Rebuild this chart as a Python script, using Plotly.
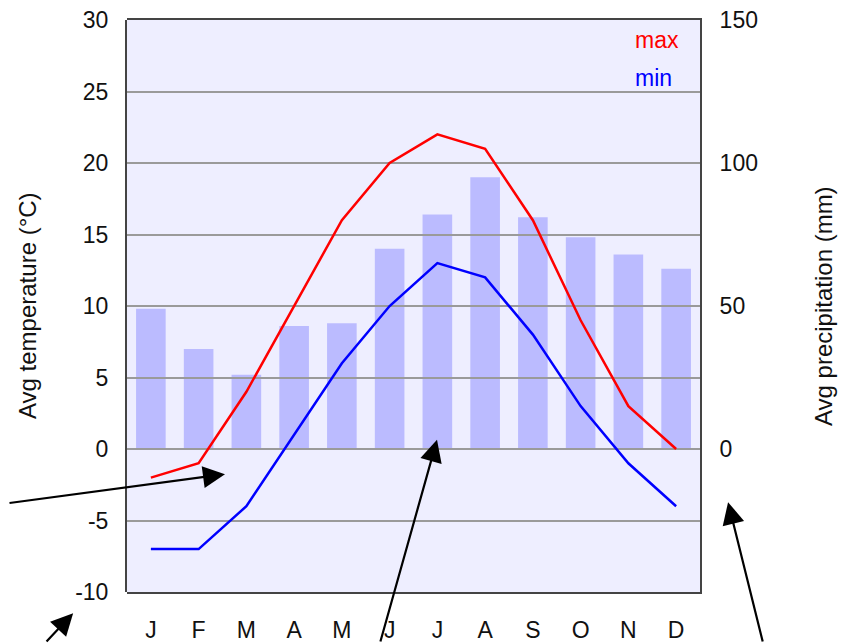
import plotly.graph_objects as go

months = ["J", "F", "M", "A", "M ", "J ", "J  ", "A ", "S", "O", "N", "D"]
month_labels = ["J", "F", "M", "A", "M", "J", "J", "A", "S", "O", "N", "D"]
temp_max = [-2, -1, 4, 10, 16, 20, 22, 21, 16, 9, 3, 0]
temp_min = [-7, -7, -4, 1, 6, 10, 13, 12, 8, 3, -1, -4]
precip = [49, 35, 26, 43, 44, 70, 82, 95, 81, 74, 68, 63]
temp_ticks = [-10, -5, 0, 5, 10, 15, 20, 25, 30]
temp_tick_text = ["-10", "-5", "0", "5", "10", "15", "20", "25", "30"]
precip_ticks = [0, 50, 100, 150]

FONT = "Liberation Sans, Arial, sans-serif"
TXT = "#111111"
FRAME = "#444444"
GRID = "#9a9a9a"
BG = "#EEEEFF"

fig = go.Figure()

# Subplot 1: precipitation bars (drawn first, under the gridlines of subplot 2)
fig.add_trace(go.Bar(
    x=months, y=precip, xaxis="x", yaxis="y",
    marker=dict(color="#BBBBFF", line=dict(width=0)),
    showlegend=False, hoverinfo="y",
))

# Subplot 2: temperature lines
fig.add_trace(go.Scatter(
    x=months, y=temp_max, xaxis="x2", yaxis="y2", mode="lines",
    line=dict(color="#FF0000", width=2.5), name="max", showlegend=False,
))
fig.add_trace(go.Scatter(
    x=months, y=temp_min, xaxis="x2", yaxis="y2", mode="lines",
    line=dict(color="#0000FF", width=2.5), name="min", showlegend=False,
))

# the page body has an 8px margin, so the figure is 8px smaller on each axis
fig.update_layout(
    width=843, height=635,
    margin=dict(l=119, r=151, t=12, b=51, autoexpand=False),
    paper_bgcolor="white",
    plot_bgcolor="rgba(0,0,0,0)",
    bargap=0.38,
    font=dict(family=FONT, size=23, color=TXT),
    xaxis=dict(
        domain=[0, 1], anchor="y", range=[-0.5, 11.5],
        type="category", tickmode="array", tickvals=months, ticktext=month_labels,
        showgrid=False, zeroline=False, ticks="", ticklabelstandoff=16,
        ticklabeloverflow="allow",
        showline=True, mirror=True, linecolor=FRAME, linewidth=2,
        tickfont=dict(size=23, color=TXT),
    ),
    yaxis=dict(
        domain=[0, 1], anchor="x", side="right", range=[-50, 150],
        tickvals=precip_ticks, showgrid=False, zeroline=False, ticks="",
        ticklabelstandoff=13, ticklabeloverflow="allow",
        showline=True, linecolor=FRAME, linewidth=2,
        tickfont=dict(size=23, color=TXT),
    ),
    xaxis2=dict(
        domain=[0, 1], anchor="y2", range=[-0.5, 11.5], type="category",
        categoryarray=months, visible=False,
    ),
    yaxis2=dict(
        domain=[0, 1], anchor="x2", side="left", range=[-10, 30],
        tickmode="array", tickvals=temp_ticks, ticktext=temp_tick_text,
        showgrid=True, gridcolor=GRID, gridwidth=1.5,
        zeroline=False, ticks="inside", ticklen=3, tickcolor=GRID,
        ticklabelstandoff=12, ticklabeloverflow="allow",
        showline=True, mirror=True,
        linecolor=FRAME, linewidth=2,
        tickfont=dict(size=23, color=TXT),
    ),
    shapes=[dict(type="rect", xref="paper", yref="paper", x0=0, x1=1, y0=0, y1=1,
                 fillcolor=BG, line=dict(width=0), layer="below")],
)

annotations = [
    dict(text="Avg temperature (°C)", xref="paper", yref="paper",
         x=-0.1745, y=0.5, xanchor="center", yanchor="middle",
         textangle=-90, showarrow=False, font=dict(size=24, color=TXT)),
    dict(text="Avg precipitation (mm)", xref="paper", yref="paper",
         x=1.2147, y=0.5, xanchor="center", yanchor="middle",
         textangle=-90, showarrow=False, font=dict(size=24, color=TXT)),
    dict(text="max", xref="paper", yref="paper", x=0.883, y=0.965,
         xanchor="left", yanchor="middle", showarrow=False,
         font=dict(size=23, color="#FF0000")),
    dict(text="min", xref="paper", yref="paper", x=0.883, y=0.898,
         xanchor="left", yanchor="middle", showarrow=False,
         font=dict(size=23, color="#0000FF")),
]

# callout arrows (tip in paper coords, tail offset in pixels)
arrows = [
    (0.171, 0.206, -225, 29),
    (-0.094, -0.037, -28, 36),
    (0.541, 0.266, -57, 210),
    (1.049, 0.157, 35, 150),
]
for x, y, ax, ay in arrows:
    annotations.append(dict(
        text="", xref="paper", yref="paper", x=x, y=y, ax=ax, ay=ay,
        showarrow=True, arrowhead=2, arrowsize=2, arrowwidth=2.2,
        arrowcolor="black", standoff=0,
    ))

fig.update_layout(annotations=annotations)

fig.write_html("out.html")
